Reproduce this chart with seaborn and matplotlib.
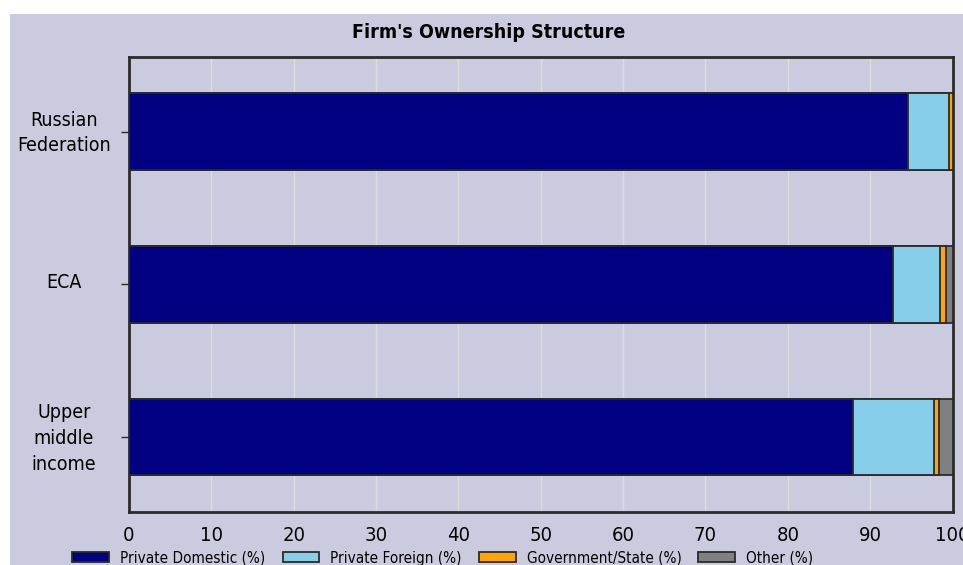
import pandas as pd
import numpy as np
import matplotlib
matplotlib.use("Agg")
import matplotlib.pyplot as plt
from matplotlib.patches import Rectangle, Patch
from matplotlib.transforms import ScaledTranslation
import seaborn as sns

# Data (% of firms)
countries = ["Russian\nFederation", "ECA", "Upper\nmiddle\nincome"]
series = ["Private Domestic (%)", "Private Foreign (%)", "Government/State (%)", "Other (%)"]
private_domestic = [94.6, 92.8, 87.9]
private_foreign = [5.0, 5.7, 9.9]
government_state = [0.4, 0.7, 0.5]
other = [0.0, 0.8, 1.7]
colors = ["#000080", "#87CEEB", "#FFA500", "#808080"]

bg = "#CBCBDF"
edge = "#2b2b2b"

df = pd.DataFrame({"country": countries,
                   series[0]: private_domestic,
                   series[1]: private_foreign,
                   series[2]: government_state,
                   series[3]: other})
# cumulative sums so the layers can be stacked by overlaying
cum = df[series].cumsum(axis=1)
cum["country"] = df["country"]

sns.set_style("white")
plt.rcParams["font.family"] = ["DejaVu Sans"]
plt.rcParams["font.stretch"] = "condensed"
plt.rcParams["text.color"] = "black"
plt.rcParams["xtick.color"] = "black"
plt.rcParams["ytick.color"] = "black"

fig = plt.figure(figsize=(9.63, 5.65), dpi=100)
fig.patch.set_facecolor("white")
fig.patches.append(Rectangle((10 / 963, 0), 1, 1 - 14 / 565, transform=fig.transFigure,
                             facecolor=bg, edgecolor="none", zorder=-10))

ax = fig.add_axes([129 / 963, 1 - 512 / 565, (952.5 - 129) / 963, (512 - 56.7) / 565])
ax.set_facecolor(bg)

# draw the widest layer first, then overlay the shorter ones
for col, c in reversed(list(zip(series, colors))):
    sns.barplot(data=cum, x=col, y="country", color=c, width=0.5, orient="h",
                edgecolor=edge, linewidth=1.3, saturation=1, ax=ax, zorder=3)

ax.set_xlim(0, 100)
ax.set_ylim(2.49, -0.49)
ax.set_xticks(np.arange(0, 101, 10))
for x in range(10, 100, 10):
    ax.axvline(x, color="#dcdcdc", linewidth=1, zorder=1)

ax.set_xlabel("")
ax.set_ylabel("")
ax.tick_params(axis="x", length=0, pad=10, labelsize=14.5)
ax.tick_params(axis="y", length=6, width=1, color=edge, pad=0, labelsize=14, direction="out", left=True)
# labels sit a few pixels above their tick in the original
shift = ScaledTranslation(0, 4 / 100, fig.dpi_scale_trans)
for tick in ax.yaxis.get_major_ticks():
    lab = tick.label1
    lab.set_horizontalalignment("center")
    lab.set_linespacing(1.45)
    lab.set_x(-0.069)
    lab.set_transform(lab.get_transform() + shift)
for s in ax.spines.values():
    s.set_visible(True)
    s.set_color(edge)
    s.set_linewidth(2)

fig.text(489 / 963, 1 - 32.5 / 565, "Firm's Ownership Structure", ha="center", va="center",
         fontsize=14, fontweight="bold")

handles = [Patch(facecolor=c, edgecolor=edge, linewidth=1.3, label=s) for s, c in zip(series, colors)]
fig.legend(handles=handles, loc="center", bbox_to_anchor=(443 / 963, 1 - 558 / 565), ncol=4,
           frameon=False, fontsize=11, handlelength=2.42, handleheight=0.65, handletextpad=0.72,
           columnspacing=1.1, borderaxespad=0, borderpad=0)

fig.savefig("out.png", dpi=100, facecolor=fig.get_facecolor())
